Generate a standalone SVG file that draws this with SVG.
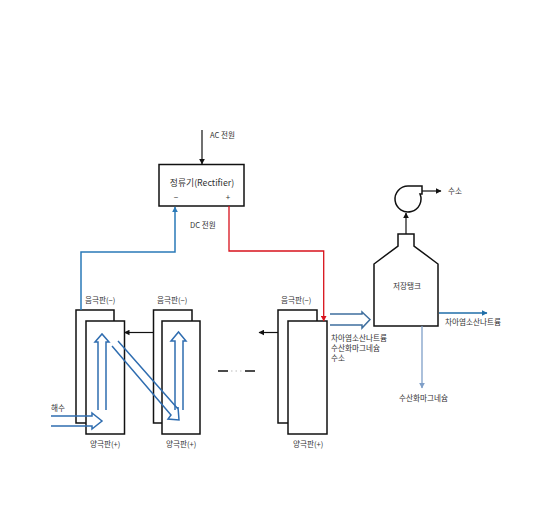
<svg xmlns="http://www.w3.org/2000/svg" width="541" height="526" viewBox="0 0 541 526">
<style>
text{font-family:"Noto Sans CJK KR","Liberation Sans",sans-serif;font-size:7.600px;fill:#333}
.plate{fill:#fff;stroke:#111;stroke-width:1.500}
.back{fill:none;stroke:#111;stroke-width:1.500}
.blk{fill:none;stroke:#111;stroke-width:1.200}
.hollow{fill:none;stroke:#2f6db0;stroke-width:1.500}
.hollow2{fill:none;stroke:#3f6f9f;stroke-width:1.500}
</style>
<defs>
<marker id="ab" markerWidth="6" markerHeight="6" refX="5" refY="3" orient="auto" markerUnits="userSpaceOnUse"><path d="M0,0.2L5.500,3L0,5.800z" fill="#111"/></marker>
<marker id="ar" markerWidth="6" markerHeight="6" refX="5" refY="3" orient="auto" markerUnits="userSpaceOnUse"><path d="M0,0.2L5.500,3L0,5.800z" fill="#d8121c"/></marker>
<marker id="au" markerWidth="6" markerHeight="6" refX="5" refY="3" orient="auto" markerUnits="userSpaceOnUse"><path d="M0,0.2L5.500,3L0,5.800z" fill="#2a7ab8"/></marker>
<marker id="ag" markerWidth="6" markerHeight="6" refX="5" refY="3" orient="auto" markerUnits="userSpaceOnUse"><path d="M0,0.2L5.500,3L0,5.800z" fill="#7f9fc8"/></marker>
<marker id="at" markerWidth="6" markerHeight="6" refX="5" refY="3" orient="auto" markerUnits="userSpaceOnUse"><path d="M0,0.2L5.500,3L0,5.800z" fill="#1f6ea8"/></marker>
</defs>
<rect width="541" height="526" fill="#fff"/>
<g id="rectifier">
<rect x="159" y="164.500" width="85" height="41.500" fill="#fff" stroke="#111" stroke-width="1.500"/>
<text x="202" y="186" text-anchor="middle" style="font-size:8.800px">정류기(Rectifier)</text>
<text x="176" y="200" text-anchor="middle" style="font-size:8px">−</text>
<text x="228" y="200" text-anchor="middle" style="font-size:8px">+</text>
</g>
<g id="plate-set-1">
<path class="back" d="M86,423H76V310H114V321"/>
<rect class="plate" x="86" y="321" width="38.500" height="113"/>
<text x="85" y="303">음극판(−)</text>
<text x="90" y="447">양극판(+)</text>
</g>
<g id="plate-set-2">
<path class="back" d="M162,423H153.500V310H192V321"/>
<rect class="plate" x="162" y="321" width="38" height="113"/>
<text x="157" y="303">음극판(−)</text>
<text x="166" y="447">양극판(+)</text>
</g>
<g id="plate-set-3">
<path class="back" d="M288,423H278V310H317V321"/>
<rect class="plate" x="288" y="321" width="39" height="113"/>
<text x="281" y="303">음극판(−)</text>
<text x="293" y="447">양극판(+)</text>
</g>
<g id="tank">
<path d="M374,326V264L398,246V234H414V246L438,264V326Z" fill="#fff" stroke="#111" stroke-width="1.500"/>
<text x="393" y="289">저장탱크</text>
</g>
<g id="pump">
<path d="M422,186H408A13,13 0 1 0 420,194H422Z" fill="#fff" stroke="#111" stroke-width="1.500"/>
</g>
<g id="connectors">
<path class="blk" d="M202,130V164" marker-end="url(#ab)"/>
<path d="M81,310V252H175V207" fill="none" stroke="#2a7ab8" stroke-width="1.500" marker-end="url(#au)"/>
<path d="M229,206V251H323.700V321" fill="none" stroke="#d8121c" stroke-width="1.300" marker-end="url(#ar)"/>
<path class="blk" d="M153.500,332.500H124.500" marker-end="url(#ab)"/>
<path class="blk" d="M278,332.500H259" marker-end="url(#ab)"/>
<path d="M218,371H228M245,371H255" stroke="#111" stroke-width="1.500" fill="none"/>
<path d="M231,371H243" stroke="#bbb" stroke-width="1.200" stroke-dasharray="1.500 3" fill="none"/>
<path class="hollow" d="M51,416H92V413L102,421L92,429V426H51"/>
<path class="hollow" d="M98,410V342H95L102,334L109,342H106V410"/>
<path class="hollow" d="M175,410V341H171L178.500,332L186,341H183V410"/>
<path class="hollow" d="M118,341L178,409V407L179,420L168,419L171,415L112,346"/>
<path class="hollow2" d="M330,314H362V312L370,319.500L362,328V325H330"/>
<path class="blk" d="M406,234V213" marker-end="url(#ab)"/>
<path class="blk" d="M422,191H441" marker-end="url(#ab)"/>
<path d="M439,313H487" fill="none" stroke="#1f6ea8" stroke-width="1.300" marker-end="url(#at)"/>
<path d="M422,326V388" fill="none" stroke="#7f9fc8" stroke-width="1.300" marker-end="url(#ag)"/>
</g>
<g id="labels">
<text x="210" y="138">AC 전원</text>
<text x="190" y="228">DC 전원</text>
<text x="51" y="411">해수</text>
<text x="331" y="341">차아염소산나트륨</text>
<text x="331" y="351">수산화마그네슘</text>
<text x="331" y="361">수소</text>
<text x="448" y="194">수소</text>
<text x="445" y="325">차아염소산나트륨</text>
<text x="399" y="401">수산화마그네슘</text>
</g>
</svg>
